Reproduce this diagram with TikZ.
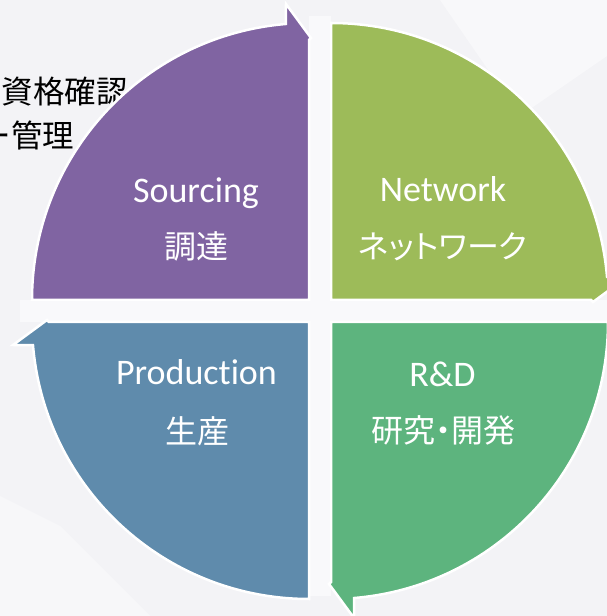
\documentclass[tikz,border=0pt]{standalone}
\usepackage{fontspec}
\setmainfont{Carlito}[Ligatures=NoCommon]
\newfontfamily\jp[RawFeature=+palt]{Noto Sans CJK JP}
\newfontfamily\jpplain{Noto Sans CJK JP}
\definecolor{cpurple}{RGB}{128,100,162}
\definecolor{cgreenA}{RGB}{157,187,89}
\definecolor{cgreenB}{RGB}{93,180,126}
\definecolor{cblue}{RGB}{95,139,172}
\definecolor{bgc}{RGB}{243,243,246}
\definecolor{gapc}{RGB}{249,249,251}
\begin{document}
\begin{tikzpicture}[x=1pt,y=1pt,
  quad/.style={draw=white,line width=2.5pt,line join=miter},
  lbl/.style={text=white,font=\fontsize{36}{36}\selectfont,anchor=base,inner sep=0pt},
  jlbl/.style={text=white,font=\jp\fontsize{32}{32}\selectfont,anchor=base,inner sep=0pt},
  note/.style={text=black,font=\jpplain\fontsize{31.5}{31.5}\selectfont,anchor=base west,inner sep=0pt}]
\useasboundingbox (0,0) rectangle (607,616);
\clip (0,0) rectangle (607,616);
\fill[bgc] (0,0) rectangle (607,616);
% faint light streaks of the background
\fill[white,opacity=0.45] (440,616) -- (607,616) -- (607,560) -- (520,500) -- cycle;
\fill[white,opacity=0.35] (0,120) -- (0,0) -- (150,0) -- (60,90) -- cycle;
% light cross in the gaps
\fill[gapc] (309,20) rectangle (331,600);
\fill[gapc] (20,294) rectangle (607,316);
% text partly hidden behind the purple shape
\node[note] (n1) at (1.5,512.5) {資格確認};
\node[note] (n2) at (-20.5,468.5) {ー管理};
% quadrants
\path[quad,fill=cpurple] (32,316) arc[start angle=180,end angle=94.8,radius=277]
  -- (286,612) -- (311,578) -- (309,576) -- (309,316) -- cycle;
\path[quad,fill=cgreenA] (331,316) -- (331,593) arc[start angle=90,end angle=4.8,radius=277]
  -- (627,339) -- (593,314) -- (591,316) -- cycle;
\path[quad,fill=cgreenB] (331,294) -- (608,294) arc[start angle=0,end angle=-85.2,radius=277]
  -- (354,-2) -- (329,32) -- (331,34) -- cycle;
\path[quad,fill=cblue] (309,294) -- (309,17) arc[start angle=-90,end angle=-175.2,radius=277]
  -- (13,271) -- (47,296) -- (49,294) -- cycle;
% labels
\node[lbl] (s1) at (196,413) {Sourcing};
\node[jlbl] (s2) at (196,357.5) {調達};
\node[lbl] (w1) at (443,414) {Network};
\node[jlbl] (w2) at (443,357.5) {ネットワーク};
\node[lbl] (p1) at (196.5,231) {Production};
\node[jlbl] (p2) at (197,172.5) {生産};
\node[lbl] (r1) at (442.5,229) {R\&D};
\node[jlbl] (r2) at (443,173.5) {研究・開発};
\end{tikzpicture}
\end{document}
